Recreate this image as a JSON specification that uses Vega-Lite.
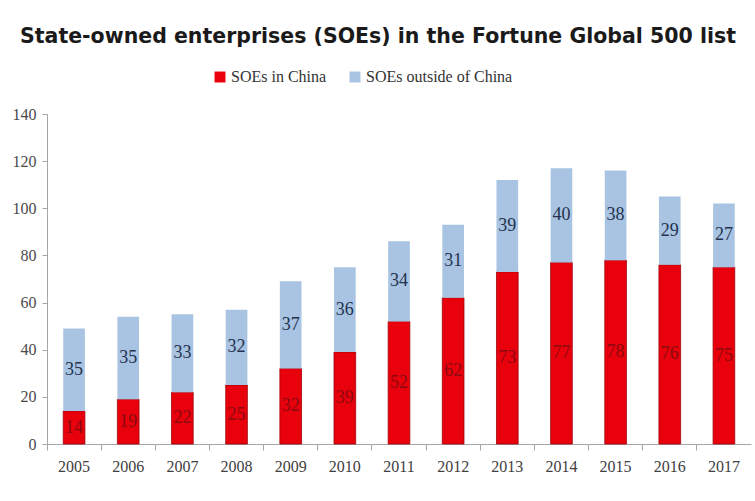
{
  "$schema": "https://vega.github.io/schema/vega-lite/v6.json",
  "width": 704,
  "height": 330,
  "autosize": {"type": "none"},
  "padding": {"left": 47, "top": 114, "right": 4, "bottom": 57},
  "background": "white",
  "title": {
    "text": "State-owned enterprises (SOEs) in the Fortune Global 500 list",
    "anchor": "middle",
    "dx": -21,
    "offset": 22,
    "font": "DejaVu Sans",
    "fontSize": 20.5,
    "fontWeight": "bold",
    "color": "#1a1a1a"
  },
  "data": {
    "values": [
      {"year": "2005", "group": "SOEs in China", "count": 14},
      {"year": "2005", "group": "SOEs outside of China", "count": 35},
      {"year": "2006", "group": "SOEs in China", "count": 19},
      {"year": "2006", "group": "SOEs outside of China", "count": 35},
      {"year": "2007", "group": "SOEs in China", "count": 22},
      {"year": "2007", "group": "SOEs outside of China", "count": 33},
      {"year": "2008", "group": "SOEs in China", "count": 25},
      {"year": "2008", "group": "SOEs outside of China", "count": 32},
      {"year": "2009", "group": "SOEs in China", "count": 32},
      {"year": "2009", "group": "SOEs outside of China", "count": 37},
      {"year": "2010", "group": "SOEs in China", "count": 39},
      {"year": "2010", "group": "SOEs outside of China", "count": 36},
      {"year": "2011", "group": "SOEs in China", "count": 52},
      {"year": "2011", "group": "SOEs outside of China", "count": 34},
      {"year": "2012", "group": "SOEs in China", "count": 62},
      {"year": "2012", "group": "SOEs outside of China", "count": 31},
      {"year": "2013", "group": "SOEs in China", "count": 73},
      {"year": "2013", "group": "SOEs outside of China", "count": 39},
      {"year": "2014", "group": "SOEs in China", "count": 77},
      {"year": "2014", "group": "SOEs outside of China", "count": 40},
      {"year": "2015", "group": "SOEs in China", "count": 78},
      {"year": "2015", "group": "SOEs outside of China", "count": 38},
      {"year": "2016", "group": "SOEs in China", "count": 76},
      {"year": "2016", "group": "SOEs outside of China", "count": 29},
      {"year": "2017", "group": "SOEs in China", "count": 75},
      {"year": "2017", "group": "SOEs outside of China", "count": 27}
    ]
  },
  "encoding": {
    "x": {
      "field": "year",
      "type": "ordinal",
      "scale": {"paddingInner": 0, "paddingOuter": 0}
    },
    "y": {
      "field": "count",
      "type": "quantitative",
      "stack": "zero",
      "scale": {"domain": [0, 140]},
      "axis": {
        "title": null,
        "values": [0, 20, 40, 60, 80, 100, 120, 140],
        "grid": false,
        "domainColor": "#a6a6a6",
        "tickColor": "#a6a6a6",
        "tickSize": 5,
        "labelFont": "Liberation Serif",
        "labelFontSize": 16,
        "labelColor": "#4a4a4a",
        "labelPadding": 6
      }
    },
    "order": {"field": "group", "type": "ordinal", "sort": "ascending"}
  },
  "layer": [
    {
      "mark": {"type": "bar", "width": {"band": 0.4}, "strokeWidth": 0.8},
      "encoding": {
        "x": {
          "field": "year",
          "type": "ordinal",
          "axis": {
            "title": null,
            "orient": "bottom",
            "labelAngle": 0,
            "ticks": false,
            "domainColor": "#a6a6a6",
            "labelFont": "Liberation Serif",
            "labelFontSize": 16,
            "labelColor": "#404040",
            "labelPadding": 14
          }
        },
        "color": {
          "field": "group",
          "type": "nominal",
          "scale": {
            "domain": ["SOEs in China", "SOEs outside of China"],
            "range": ["#e8000c", "#a8c4e2"]
          },
          "legend": {
            "title": null,
            "orient": "none",
            "direction": "horizontal",
            "legendX": 165,
            "legendY": -45,
            "symbolType": "square",
            "symbolSize": 120,
            "symbolStrokeWidth": 0,
            "labelFont": "Liberation Serif",
            "labelFontSize": 16,
            "labelColor": "#333333",
            "labelOffset": 3,
            "columnPadding": 20
          }
        },
        "stroke": {
          "condition": {"test": "datum.group == 'SOEs in China'", "value": "#a00008"},
          "value": null
        }
      }
    },
    {
      "mark": {"type": "text", "font": "Liberation Serif", "fontSize": 18, "baseline": "middle"},
      "encoding": {
        "x": {
          "field": "year",
          "type": "ordinal",
          "axis": {
            "title": null,
            "orient": "bottom",
            "labels": false,
            "domain": false,
            "ticks": true,
            "tickSize": 6,
            "bandPosition": 0,
            "tickColor": "#a6a6a6"
          }
        },
        "y": {"field": "count", "type": "quantitative", "stack": "zero", "bandPosition": 0.5},
        "detail": {"field": "group", "type": "nominal"},
        "text": {"field": "count", "type": "quantitative"},
        "color": {
          "condition": {"test": "datum.group == 'SOEs in China'", "value": "#8c0a10"},
          "value": "#25324f"
        }
      }
    }
  ],
  "resolve": {"axis": {"x": "independent"}},
  "config": {"view": {"stroke": null}}
}
